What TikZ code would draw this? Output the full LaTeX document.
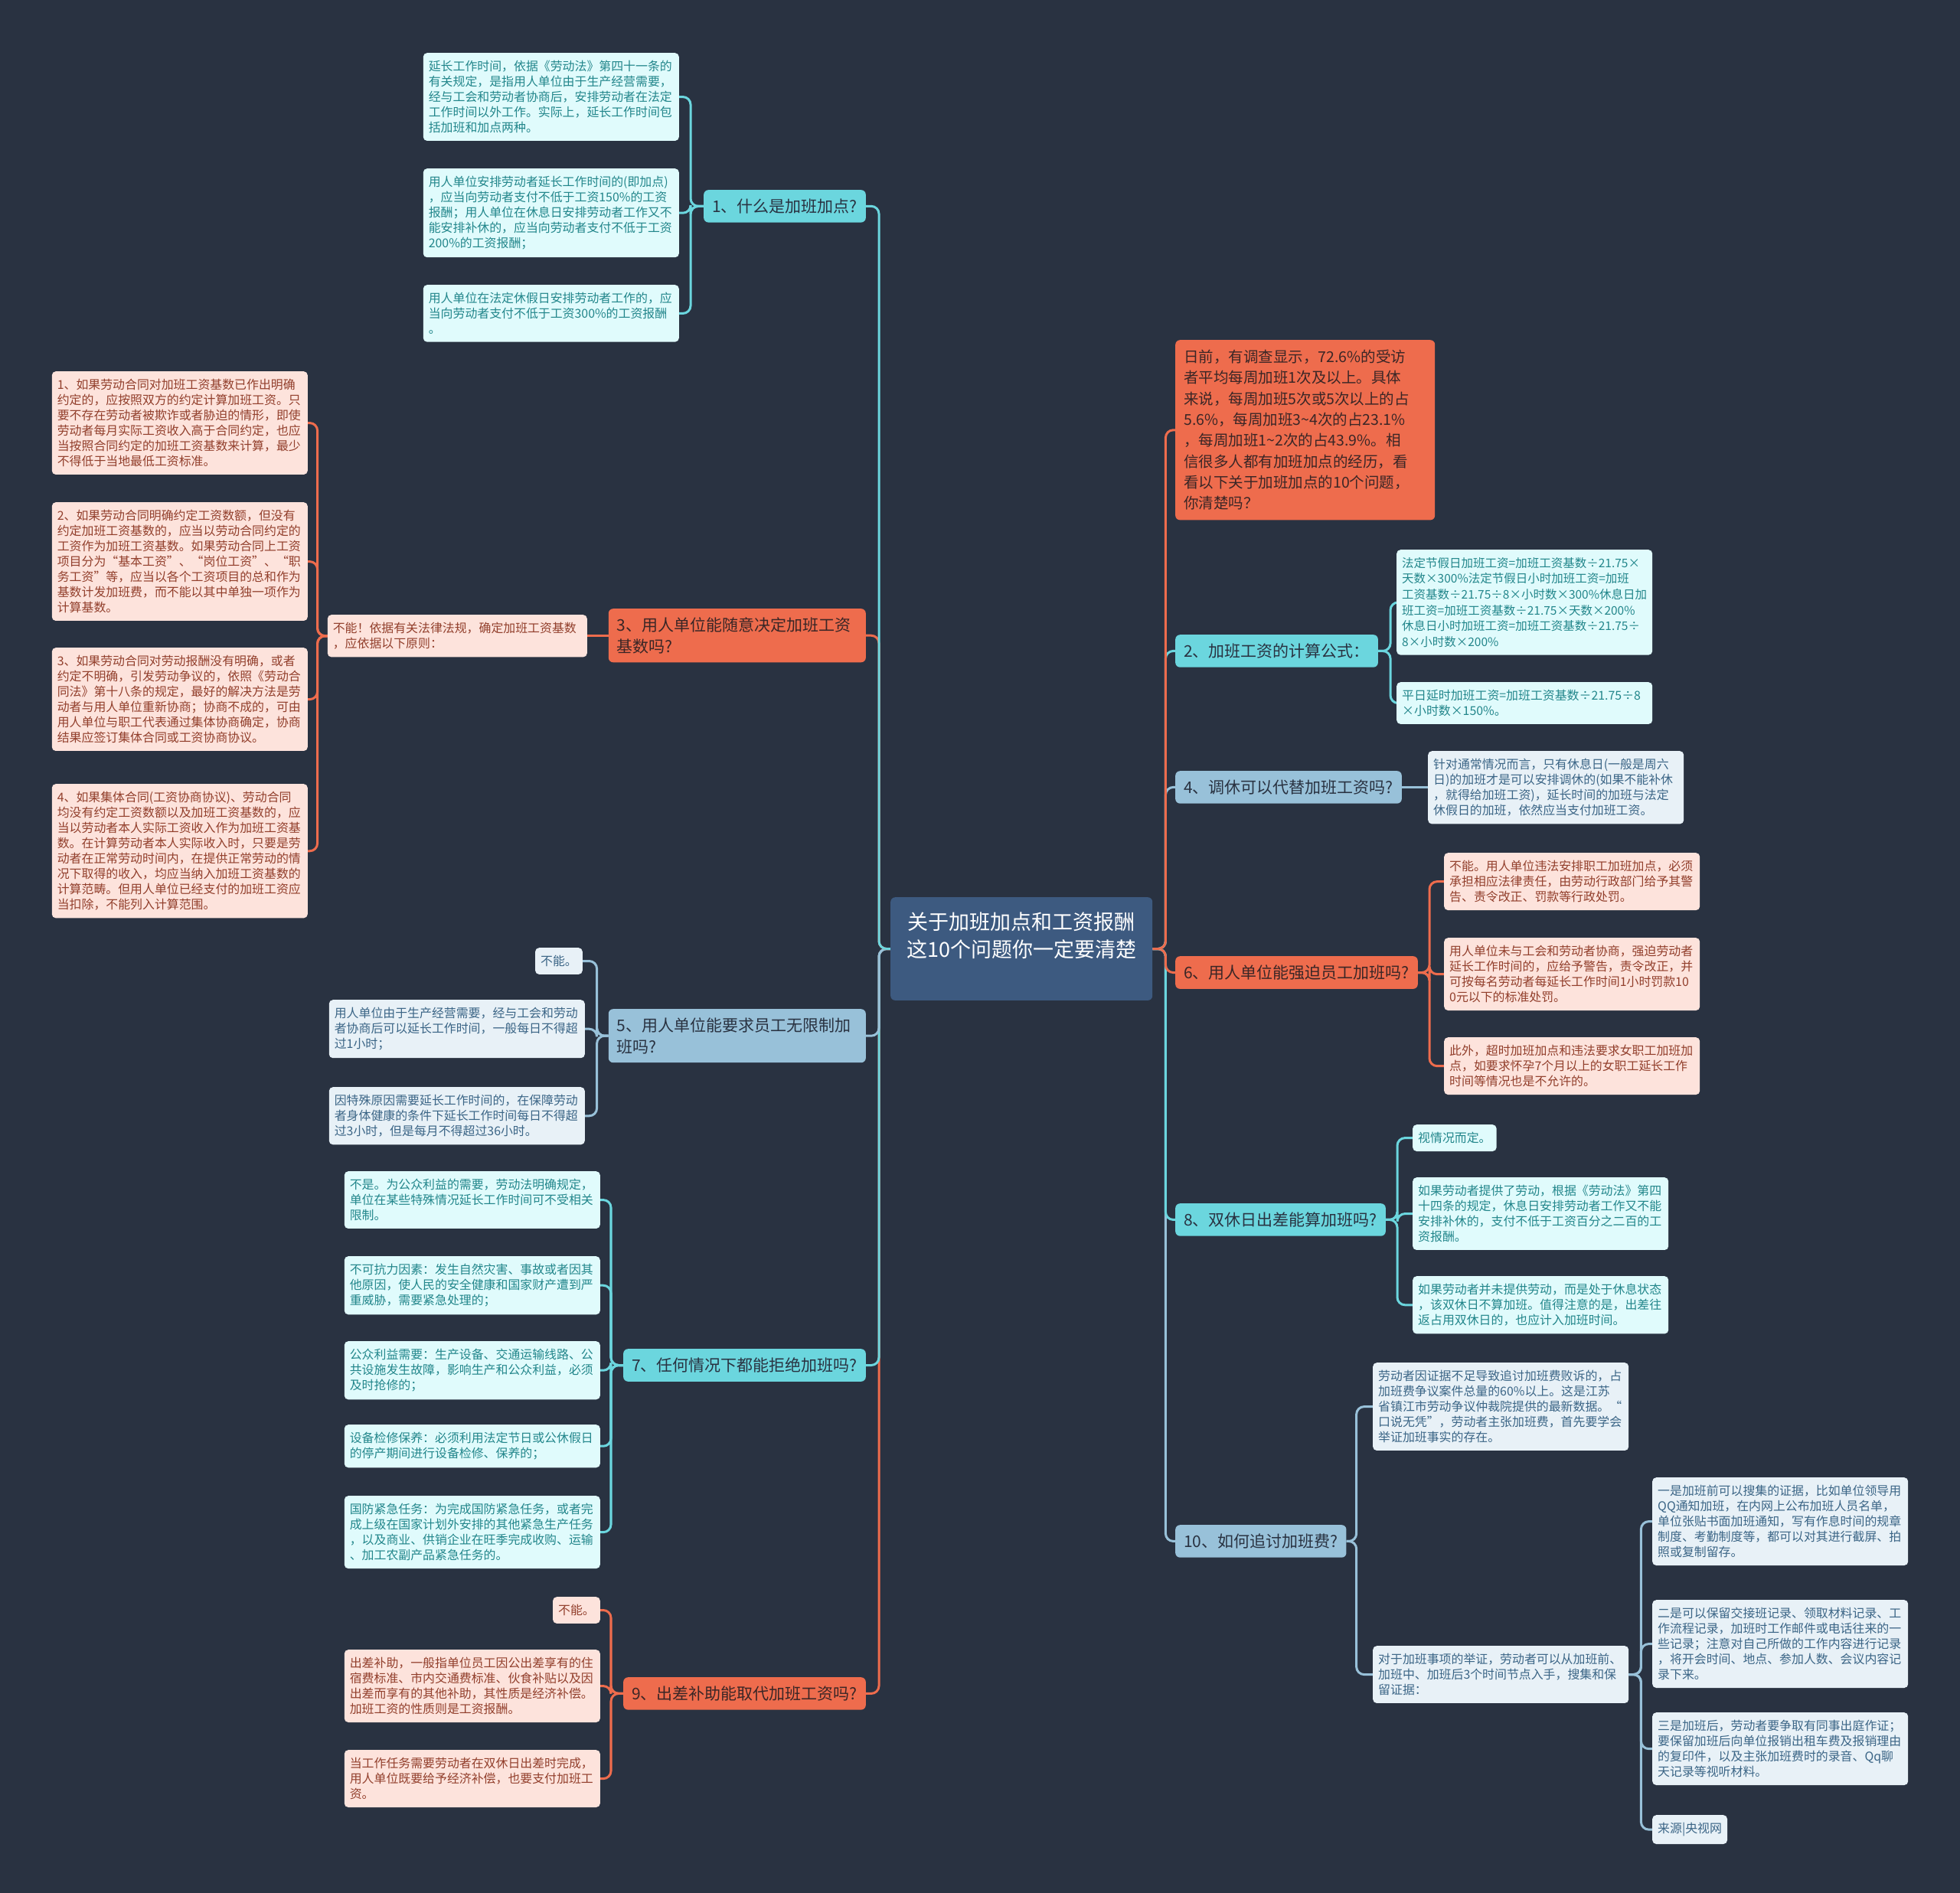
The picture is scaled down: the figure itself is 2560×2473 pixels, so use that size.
\documentclass[tikz,border=0pt]{standalone}
\usepackage{fontspec}
\setmainfont{Noto Sans CJK SC}
\usetikzlibrary{backgrounds}
\definecolor{bgc}{HTML}{293241}
\definecolor{rootc}{HTML}{3D5A80}
\definecolor{tealc}{HTML}{6BD6DE}
\definecolor{orangec}{HTML}{EE6C4D}
\definecolor{bluec}{HTML}{98C1D9}
\definecolor{tealbg}{HTML}{E0FBFC}
\definecolor{tealtx}{HTML}{22868B}
\definecolor{orgbg}{HTML}{FDE3DC}
\definecolor{orgtx}{HTML}{923F2C}
\definecolor{bluebg}{HTML}{E8F1F7}
\definecolor{bluetx}{HTML}{3B6586}
\definecolor{darktx}{HTML}{293241}
\definecolor{orgdark}{HTML}{3A2626}
\tikzset{
  nbase/.style={rounded corners=5pt, align=left, inner ysep=10pt, inner xsep=7pt, font=\fontsize{15.9}{20}\selectfont},
  wide/.style={text width=320pt},
  tleaf/.style={nbase, fill=tealbg, text=tealtx},
  oleaf/.style={nbase, fill=orgbg, text=orgtx},
  bleaf/.style={nbase, fill=bluebg, text=bluetx},
  br/.style={rounded corners=6pt, align=left, inner xsep=11pt, inner ysep=11.5pt, font=\fontsize{21}{27.5}\selectfont},
  tbr/.style={br, fill=tealc, text=darktx},
  obr/.style={br, fill=orangec, text=orgdark},
  bbr/.style={br, fill=bluec, text=darktx},
  con/.style={line width=3pt, rounded corners=10pt},
}
\begin{document}
\begin{tikzpicture}[x=1pt,y=-1pt]
\useasboundingbox (0,0) rectangle (2560,2473);

% root
\node[anchor=north west, rounded corners=6pt, fill=rootc, text=white, align=center, text width=314pt, inner xsep=14pt, inner ysep=20pt, font=\fontsize{27}{36}\selectfont] (root) at (1163,1172) {关于加班加点和工资报酬\\这10个问题你一定要清楚\\\mbox{}};

% ---------- right side ----------
\node[obr, anchor=north west, text width=317pt, inner xsep=11pt, inner ysep=13pt, font=\fontsize{19.5}{27.3}\selectfont] (intro) at (1535,444) {日前，有调查显示，72.6\%的受访\\者平均每周加班1次及以上。具体\\来说，每周加班5次或5次以上的占\\5.6\%，每周加班3\textasciitilde4次的占23.1\%\\，每周加班1\textasciitilde2次的占43.9\%。相\\信很多人都有加班加点的经历，看\\看以下关于加班加点的10个问题，\\你清楚吗？};

\node[tbr, anchor=north west] (b2) at (1535,829) {2、加班工资的计算公式：};
\node[tleaf, wide, anchor=north west, font=\fontsize{15.5}{20.6}\selectfont] (l2a) at (1824,718) {法定节假日加班工资=加班工资基数÷21.75×\\天数×300\%法定节假日小时加班工资=加班\\工资基数÷21.75÷8×小时数×300\%休息日加\\班工资=加班工资基数÷21.75×天数×200\%\\休息日小时加班工资=加班工资基数÷21.75÷\\8×小时数×200\%};
\node[tleaf, wide, anchor=north west] (l2b) at (1824,891) {平日延时加班工资=加班工资基数÷21.75÷8\\×小时数×150\%。};

\node[bbr, anchor=north west] (b4) at (1535,1007) {4、调休可以代替加班工资吗?};
\node[bleaf, wide, anchor=north west] (l4a) at (1865,981) {针对通常情况而言，只有休息日(一般是周六\\日)的加班才是可以安排调休的(如果不能补休\\，就得给加班工资)，延长时间的加班与法定\\休假日的加班，依然应当支付加班工资。};

\node[obr, anchor=north west] (b6) at (1535,1249) {6、用人单位能强迫员工加班吗?};
\node[oleaf, wide, anchor=north west] (l6a) at (1886,1114) {不能。用人单位违法安排职工加班加点，必须\\承担相应法律责任，由劳动行政部门给予其警\\告、责令改正、罚款等行政处罚。};
\node[oleaf, wide, anchor=north west] (l6b) at (1886,1225) {用人单位未与工会和劳动者协商，强迫劳动者\\延长工作时间的，应给予警告，责令改正，并\\可按每名劳动者每延长工作时间1小时罚款10\\0元以下的标准处罚。};
\node[oleaf, wide, anchor=north west] (l6c) at (1886,1355) {此外，超时加班加点和违法要求女职工加班加\\点，如要求怀孕7个月以上的女职工延长工作\\时间等情况也是不允许的。};

\node[tbr, anchor=north west] (b8) at (1535,1572) {8、双休日出差能算加班吗?};
\node[tleaf, anchor=north west] (l8a) at (1845,1469) {视情况而定。};
\node[tleaf, wide, anchor=north west] (l8b) at (1845,1538) {如果劳动者提供了劳动，根据《劳动法》第四\\十四条的规定，休息日安排劳动者工作又不能\\安排补休的，支付不低于工资百分之二百的工\\资报酬。};
\node[tleaf, wide, anchor=north west] (l8c) at (1845,1667) {如果劳动者并未提供劳动，而是处于休息状态\\，该双休日不算加班。值得注意的是，出差往\\返占用双休日的，也应计入加班时间。};

\node[bbr, anchor=north west] (b10) at (1535,1992) {10、如何追讨加班费?};
\node[bleaf, wide, anchor=north west] (l10a) at (1793,1780) {劳动者因证据不足导致追讨加班费败诉的，占\\加班费争议案件总量的60\%以上。这是江苏\\省镇江市劳动争议仲裁院提供的最新数据。“\\口说无凭”，劳动者主张加班费，首先要学会\\举证加班事实的存在。};
\node[bleaf, wide, anchor=north west] (l10b) at (1793,2150) {对于加班事项的举证，劳动者可以从加班前、\\加班中、加班后3个时间节点入手，搜集和保\\留证据：};
\node[bleaf, wide, anchor=north west] (l10c) at (2158,1930) {一是加班前可以搜集的证据，比如单位领导用\\QQ通知加班，在内网上公布加班人员名单，\\单位张贴书面加班通知，写有作息时间的规章\\制度、考勤制度等，都可以对其进行截屏、拍\\照或复制留存。};
\node[bleaf, wide, anchor=north west] (l10d) at (2158,2090) {二是可以保留交接班记录、领取材料记录、工\\作流程记录，加班时工作邮件或电话往来的一\\些记录；注意对自己所做的工作内容进行记录\\，将开会时间、地点、参加人数、会议内容记\\录下来。};
\node[bleaf, wide, anchor=north west] (l10e) at (2158,2237) {三是加班后，劳动者要争取有同事出庭作证；\\要保留加班后向单位报销出租车费及报销理由\\的复印件，以及主张加班费时的录音、Qq聊\\天记录等视听材料。};
\node[bleaf, anchor=north west] (l10f) at (2158,2371) {来源|央视网};

% ---------- left side ----------
\node[tbr, anchor=north east] (b1) at (1131,248) {1、什么是加班加点?};
\node[tleaf, wide, anchor=north east] (l1a) at (887,69) {延长工作时间，依据《劳动法》第四十一条的\\有关规定，是指用人单位由于生产经营需要，\\经与工会和劳动者协商后，安排劳动者在法定\\工作时间以外工作。实际上，延长工作时间包\\括加班和加点两种。};
\node[tleaf, wide, anchor=north east] (l1b) at (887,220) {用人单位安排劳动者延长工作时间的(即加点)\\，应当向劳动者支付不低于工资150\%的工资\\报酬；用人单位在休息日安排劳动者工作又不\\能安排补休的，应当向劳动者支付不低于工资\\200\%的工资报酬；};
\node[tleaf, wide, anchor=north east] (l1c) at (887,372) {用人单位在法定休假日安排劳动者工作的，应\\当向劳动者支付不低于工资300\%的工资报酬\\。};

\node[obr, anchor=north east, text width=314pt] (b3) at (1131,795) {3、用人单位能随意决定加班工资\\基数吗?};
\node[oleaf, anchor=north east, text width=325pt] (b3m) at (767,803) {不能！依据有关法律法规，确定加班工资基数\\，应依据以下原则：};
\node[oleaf, wide, anchor=north east] (l3a) at (402,485) {1、如果劳动合同对加班工资基数已作出明确\\约定的，应按照双方的约定计算加班工资。只\\要不存在劳动者被欺诈或者胁迫的情形，即使\\劳动者每月实际工资收入高于合同约定，也应\\当按照合同约定的加班工资基数来计算，最少\\不得低于当地最低工资标准。};
\node[oleaf, wide, anchor=north east] (l3b) at (402,656) {2、如果劳动合同明确约定工资数额，但没有\\约定加班工资基数的，应当以劳动合同约定的\\工资作为加班工资基数。如果劳动合同上工资\\项目分为“基本工资”、“岗位工资”、“职\\务工资”等，应当以各个工资项目的总和作为\\基数计发加班费，而不能以其中单独一项作为\\计算基数。};
\node[oleaf, wide, anchor=north east] (l3c) at (402,846) {3、如果劳动合同对劳动报酬没有明确，或者\\约定不明确，引发劳动争议的，依照《劳动合\\同法》第十八条的规定，最好的解决方法是劳\\动者与用人单位重新协商；协商不成的，可由\\用人单位与职工代表通过集体协商确定，协商\\结果应签订集体合同或工资协商协议。};
\node[oleaf, wide, anchor=north east] (l3d) at (402,1024) {4、如果集体合同(工资协商协议)、劳动合同\\均没有约定工资数额以及加班工资基数的，应\\当以劳动者本人实际工资收入作为加班工资基\\数。在计算劳动者本人实际收入时，只要是劳\\动者在正常劳动时间内，在提供正常劳动的情\\况下取得的收入，均应当纳入加班工资基数的\\计算范畴。但用人单位已经支付的加班工资应\\当扣除，不能列入计算范围。};

\node[bbr, anchor=north east, text width=314pt] (b5) at (1131,1318) {5、用人单位能要求员工无限制加\\班吗?};
\node[bleaf, anchor=north east] (l5a) at (761,1238) {不能。};
\node[bleaf, wide, anchor=north east] (l5b) at (764,1306) {用人单位由于生产经营需要，经与工会和劳动\\者协商后可以延长工作时间，一般每日不得超\\过1小时；};
\node[bleaf, wide, anchor=north east] (l5c) at (764,1420) {因特殊原因需要延长工作时间的，在保障劳动\\者身体健康的条件下延长工作时间每日不得超\\过3小时，但是每月不得超过36小时。};

\node[tbr, anchor=north east] (b7) at (1131,1762) {7、任何情况下都能拒绝加班吗?};
\node[tleaf, wide, anchor=north east] (l7a) at (784,1530) {不是。为公众利益的需要，劳动法明确规定，\\单位在某些特殊情况延长工作时间可不受相关\\限制。};
\node[tleaf, wide, anchor=north east] (l7b) at (784,1641) {不可抗力因素：发生自然灾害、事故或者因其\\他原因，使人民的安全健康和国家财产遭到严\\重威胁，需要紧急处理的；};
\node[tleaf, wide, anchor=north east] (l7c) at (784,1752) {公众利益需要：生产设备、交通运输线路、公\\共设施发生故障，影响生产和公众利益，必须\\及时抢修的；};
\node[tleaf, wide, anchor=north east] (l7d) at (784,1861) {设备检修保养：必须利用法定节日或公休假日\\的停产期间进行设备检修、保养的；};
\node[tleaf, wide, anchor=north east] (l7e) at (784,1954) {国防紧急任务：为完成国防紧急任务，或者完\\成上级在国家计划外安排的其他紧急生产任务\\，以及商业、供销企业在旺季完成收购、运输\\、加工农副产品紧急任务的。};

\node[obr, anchor=north east] (b9) at (1131,2191) {9、出差补助能取代加班工资吗?};
\node[oleaf, anchor=north east] (l9a) at (784,2086) {不能。};
\node[oleaf, wide, anchor=north east] (l9b) at (784,2155) {出差补助，一般指单位员工因公出差享有的住\\宿费标准、市内交通费标准、伙食补贴以及因\\出差而享有的其他补助，其性质是经济补偿。\\加班工资的性质则是工资报酬。};
\node[oleaf, wide, anchor=north east] (l9c) at (784,2286) {当工作任务需要劳动者在双休日出差时完成，\\用人单位既要给予经济补偿，也要支付加班工\\资。};

% ---------- connectors ----------
\begin{pgfonlayer}{background}
\fill[bgc] (0,0) rectangle (2560,2473);
% root -> right branches
\draw[con,bluec] (root.east) -- ++(17,0) |- (b10.west);
\draw[con,tealc] (root.east) -- ++(17,0) |- (b8.west);
\draw[con,orangec] (root.east) -- ++(17,0) |- (b6.west);
\draw[con,bluec] (root.east) -- ++(17,0) |- (b4.west);
\draw[con,tealc] (root.east) -- ++(17,0) |- (b2.west);
\draw[con,orangec] (root.east) -- ++(17,0) |- (intro.west);
% root -> left branches
\draw[con,orangec] (root.west) -- ++(-15,0) |- (b9.east);
\draw[con,tealc] (root.west) -- ++(-15,0) |- (b7.east);
\draw[con,bluec] (root.west) -- ++(-15,0) |- (b5.east);
\draw[con,orangec] (root.west) -- ++(-15,0) |- (b3.east);
\draw[con,tealc] (root.west) -- ++(-15,0) |- (b1.east);
% right leaves
\draw[con,tealc] (b2.east) -- ++(16,0) |- (l2a.west);
\draw[con,tealc] (b2.east) -- ++(16,0) |- (l2b.west);
\draw[con,bluec] (b4.east) -- (b4.east -| l4a.west);
\draw[con,orangec] (b6.east) -- ++(15,0) |- (l6a.west);
\draw[con,orangec] (b6.east) -- ++(15,0) |- (l6b.west);
\draw[con,orangec] (b6.east) -- ++(15,0) |- (l6c.west);
\draw[con,tealc] (b8.east) -- ++(15,0) |- (l8a.west);
\draw[con,tealc] (b8.east) -- ++(15,0) |- (l8b.west);
\draw[con,tealc] (b8.east) -- ++(15,0) |- (l8c.west);
\draw[con,bluec] (b10.east) -- ++(13,0) |- (l10a.west);
\draw[con,bluec] (b10.east) -- ++(13,0) |- (l10b.west);
\draw[con,bluec] (l10b.east) -- ++(16,0) |- (l10c.west);
\draw[con,bluec] (l10b.east) -- ++(16,0) |- (l10d.west);
\draw[con,bluec] (l10b.east) -- ++(16,0) |- (l10e.west);
\draw[con,bluec] (l10b.east) -- ++(16,0) |- (l10f.west);
% left leaves
\draw[con,tealc] (b1.west) -- ++(-17,0) |- (l1a.east);
\draw[con,tealc] (b1.west) -- ++(-17,0) |- (l1b.east);
\draw[con,tealc] (b1.west) -- ++(-17,0) |- (l1c.east);
\draw[con,orangec] (b3.west) -- (b3.west -| b3m.east);
\draw[con,orangec] (b3m.west) -- ++(-13,0) |- (l3a.east);
\draw[con,orangec] (b3m.west) -- ++(-13,0) |- (l3b.east);
\draw[con,orangec] (b3m.west) -- ++(-13,0) |- (l3c.east);
\draw[con,orangec] (b3m.west) -- ++(-13,0) |- (l3d.east);
\draw[con,bluec] (b5.west) -- ++(-15,0) |- (l5a.east);
\draw[con,bluec] (b5.west) -- ++(-15,0) |- (l5b.east);
\draw[con,bluec] (b5.west) -- ++(-15,0) |- (l5c.east);
\draw[con,tealc] (b7.west) -- ++(-16,0) |- (l7a.east);
\draw[con,tealc] (b7.west) -- ++(-16,0) |- (l7b.east);
\draw[con,tealc] (b7.west) -- ++(-16,0) |- (l7c.east);
\draw[con,tealc] (b7.west) -- ++(-16,0) |- (l7d.east);
\draw[con,tealc] (b7.west) -- ++(-16,0) |- (l7e.east);
\draw[con,orangec] (b9.west) -- ++(-16,0) |- (l9a.east);
\draw[con,orangec] (b9.west) -- ++(-16,0) |- (l9b.east);
\draw[con,orangec] (b9.west) -- ++(-16,0) |- (l9c.east);
\end{pgfonlayer}
\end{tikzpicture}
\end{document}
